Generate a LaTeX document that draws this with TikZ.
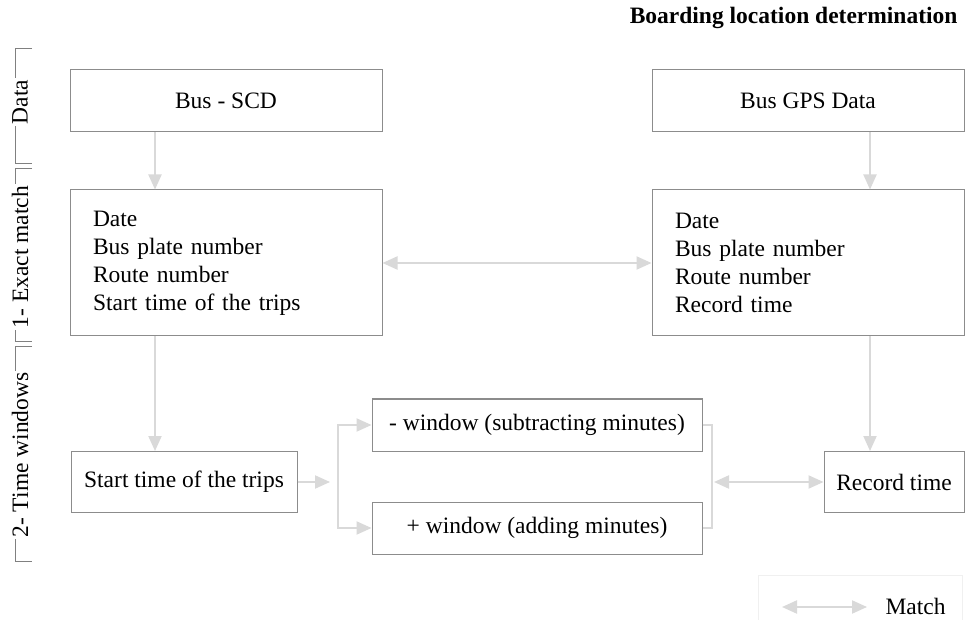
\documentclass[tikz,border=0pt]{standalone}
\usepackage{fontspec}
\setmainfont{Liberation Serif}
\usetikzlibrary{arrows.meta,positioning}

\begin{document}
\begin{tikzpicture}[x=1pt, y=-1pt, font=\fontsize{23.5}{28}\selectfont,
  block/.style = {draw=black!45, line width=1pt, minimum height=62pt, align=center, inner sep=0pt},
  fields/.style = {block, minimum height=146pt, text width=266pt, inner xsep=23pt, align=left},
  flow/.style = {draw=black!15, line width=2pt, -{Triangle[length=15pt,width=13pt]}},
  match/.style = {flow, {Triangle[length=15pt,width=13pt]}-{Triangle[length=15pt,width=13pt]}},
  phase/.style = {fill=white, rotate=90, inner sep=2pt},
  bracket/.style = {draw=black!50, line width=1pt}]

\useasboundingbox [fill=white] (0,0) rectangle (967,620);

% Nodes
\node (title) [anchor=east, font=\fontsize{23.5}{28}\selectfont\bfseries] at (961,18) {Boarding location determination};
\node (scd) [block, minimum width=312pt] at (226,101) {Bus - SCD};
\node (gps) [block, minimum width=312pt] at (808,101) {Bus GPS Data};
\node (scdfields) [fields] at (226,263) {Date\\Bus plate number\\Route number\\Start time of the trips};
\node (gpsfields) [fields] at (808,263) {Date\\Bus plate number\\Route number\\Record time};
\node (start) [block, minimum width=226pt, minimum height=61pt] at (184,482) {Start time of the trips};
\node (minus) [block, minimum width=330pt, minimum height=52pt] at (537,425) {- window (subtracting minutes)};
\node (plus) [block, minimum width=330pt, minimum height=52pt] at (537,528) {+ window (adding minutes)};
\node (record) [block, minimum width=140pt, minimum height=61pt] at (894,482) {Record time};

% Phases on the left
\draw [bracket] (32,49) -- (15,49) -- (15,164) -- (32,164);
\draw [bracket] (32,169) -- (15,169) -- (15,342) -- (32,342);
\draw [bracket] (32,347) -- (15,347) -- (15,561) -- (32,561);
\node (data) [phase] at (20,102) {Data};
\node (exact) [phase] at (20,257) {1- Exact match};
\node (windows) [phase] at (20,455) {2- Time windows};

% Legend
\node (legendbox) [draw=black!6, minimum width=204pt, minimum height=50pt, anchor=north west] at (758,575) {};
\node (legtext) [anchor=west] at (882,606) {Match};
\coordinate (legl) at (782,607);
\coordinate (legr) at (867,607);

% Arrows
\draw [flow] ([xshift=-71pt]scd.south) -- ([xshift=-71pt]scdfields.north);
\draw [flow] ([xshift=62pt]gps.south) -- ([xshift=62pt]gpsfields.north);
\draw [match] (scdfields) -- (gpsfields);
\draw [flow] ([xshift=-71pt]scdfields.south) -- ([xshift=-71pt]scdfields.south |- start.north);
\draw [flow] ([xshift=62pt]gpsfields.south) -- ([xshift=62pt]gpsfields.south |- record.north);
\coordinate (split) at (338,482);
\coordinate (merge) at (712,482);
\draw [flow] (start) -- ([xshift=-8pt]split);
\draw [flow] (split) |- (minus);
\draw [flow] (split) |- (plus);
\draw [flow, -] (minus.east) -| (merge) |- (plus.east);
\draw [match, shorten <=2pt] (merge) -- (record);
\draw [match] (legl) -- (legr);
\end{tikzpicture}
\end{document}
